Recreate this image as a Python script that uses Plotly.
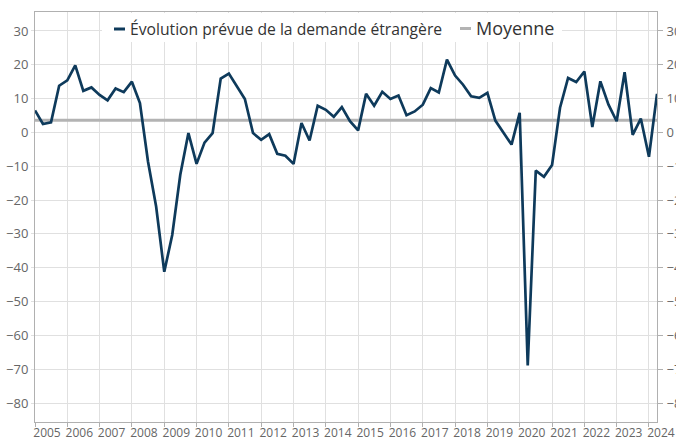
import plotly.graph_objects as go
import pandas as pd

# ---- data (quarterly, 2005Q1 .. 2024Q2) ----
dates = pd.date_range("2005-01-01", "2024-04-01", freq="QS").strftime("%Y-%m-%d").tolist()
demande = [
    6.5, 2.5, 3.0, 13.8, 15.4, 19.8, 12.3, 13.3, 11.1, 9.5,
    13.0, 11.9, 15.0, 8.7, -8.6, -21.9, -41.2, -30.3, -12.5, -0.2,
    -9.3, -3.0, -0.2, 15.9, 17.4, 13.8, 9.9, -0.2, -2.2, -0.5,
    -6.3, -6.9, -9.3, 2.8, -2.4, 7.9, 6.7, 4.6, 7.5, 3.3,
    0.6, 11.4, 7.9, 12.0, 9.9, 10.9, 5.1, 6.2, 8.2, 13.1,
    11.8, 21.5, 16.8, 14.1, 10.7, 10.2, 11.7, 3.5, -0.2, -3.6,
    5.8, -68.9, -11.3, -13.1, -9.6, 7.3, 16.1, 14.9, 18.0, 1.6,
    15.1, 8.2, 3.3, 17.8, -0.7, 4.1, -7.2, 11.4,
]
moyenne_value = 3.6
moyenne_x = [dates[0], dates[-1]]
moyenne_y = [moyenne_value, moyenne_value]

name_demande = "Évolution prévue de la demande étrangère"
name_moyenne = "Moyenne"
y_range = [-85.6, 35.6]
y_ticks = [30, 20, 10, 0, -10, -20, -30, -40, -50, -60, -70, -80]

# ---- styling ----
OFF = 0  # page body margin removed via post_script
W, H = 676, 437
ML, MR, MT, MB = 35, 19, 12, 15
PW, PH = W - ML - MR, H - MT - MB
NAVY = "#0e3a5b"
GREY_LINE = "#b3b3b3"
GRID = "#e0e0e0"
AXIS = "#b0b0b0"
TICKFONT = dict(family="Open Sans", size=13, color="#666666")


def px(xp):
    return (xp - OFF - ML) / PW


def py(yp):
    return (MT + PH - (yp - OFF)) / PH


fig = go.Figure()
fig.add_trace(go.Scatter(x=moyenne_x, y=moyenne_y, mode="lines", name=name_moyenne,
                         line=dict(color=GREY_LINE, width=3), showlegend=False))
fig.add_trace(go.Scatter(x=dates, y=demande, mode="lines", name=name_demande,
                         line=dict(color=NAVY, width=2.7), showlegend=False))
# invisible companion so the right-hand mirror axis is drawn with its labels
fig.add_trace(go.Scatter(x=moyenne_x, y=moyenne_y, mode="lines", yaxis="y2",
                         line=dict(color="rgba(0,0,0,0)", width=0),
                         showlegend=False, hoverinfo="skip"))

fig.update_layout(
    width=W, height=H,
    margin=dict(l=ML, r=MR, t=MT, b=MB, pad=0),
    paper_bgcolor="white", plot_bgcolor="white",
    font=dict(family="Open Sans", color="#333333"),
    xaxis=dict(
        type="date", range=[dates[0], dates[-1]],
        tick0="2005-01-01", dtick="M12", tickformat="%Y",
        showgrid=True, gridcolor=GRID, gridwidth=1,
        showline=True, linecolor=AXIS, linewidth=1, mirror=True,
        ticks="outside", ticklen=4, tickcolor=AXIS,
        ticklabelshift=12, ticklabelstandoff=-4, ticklabeloverflow="allow",
        tickfont=dict(family="Open Sans", size=12, color="#666666"),
        automargin=False, zeroline=False,
    ),
    yaxis=dict(
        range=y_range, tickvals=y_ticks,
        showgrid=True, gridcolor=GRID, gridwidth=1,
        showline=True, linecolor=AXIS, linewidth=1,
        ticks="outside", ticklen=3, tickcolor=GRID,
        tickfont=TICKFONT, automargin=False, zeroline=False,
    ),
    yaxis2=dict(
        range=y_range, tickvals=y_ticks, overlaying="y", side="right",
        showgrid=False, showline=True, linecolor=AXIS, linewidth=1,
        ticks="outside", ticklen=5, tickcolor=AXIS,
        ticklabelstandoff=1, ticklabeloverflow="allow",
        tickfont=TICKFONT, automargin=False, zeroline=False,
    ),
    showlegend=False,
)

# ---- legend (drawn manually to match compact symbols) ----
fig.add_shape(type="rect", xref="paper", yref="paper",
              x0=px(102), x1=px(562), y0=py(42), y1=py(13),
              fillcolor="white", line=dict(width=0), layer="above")
fig.add_shape(type="line", xref="paper", yref="paper",
              x0=px(114), x1=px(125), y0=py(29), y1=py(29),
              line=dict(color=NAVY, width=3), layer="above")
fig.add_shape(type="line", xref="paper", yref="paper",
              x0=px(460), x1=px(471), y0=py(28.5), y1=py(28.5),
              line=dict(color=GREY_LINE, width=3), layer="above")
fig.add_annotation(xref="paper", yref="paper", x=px(128), y=py(28.5),
                   xanchor="left", yanchor="middle", showarrow=False,
                   text=name_demande, font=dict(family="Open Sans", size=15.7, color="#333333"))
fig.add_annotation(xref="paper", yref="paper", x=px(474), y=py(27.5),
                   xanchor="left", yanchor="middle", showarrow=False,
                   text=name_moyenne, font=dict(family="Open Sans", size=18, color="#333333"))

fig.write_html(
    "out.html",
    config={"displayModeBar": False},
    post_script=(
        "document.body.style.margin='0';"
        "document.documentElement.style.overflow='hidden';"
        "document.body.style.overflow='hidden';"
    ),
)
